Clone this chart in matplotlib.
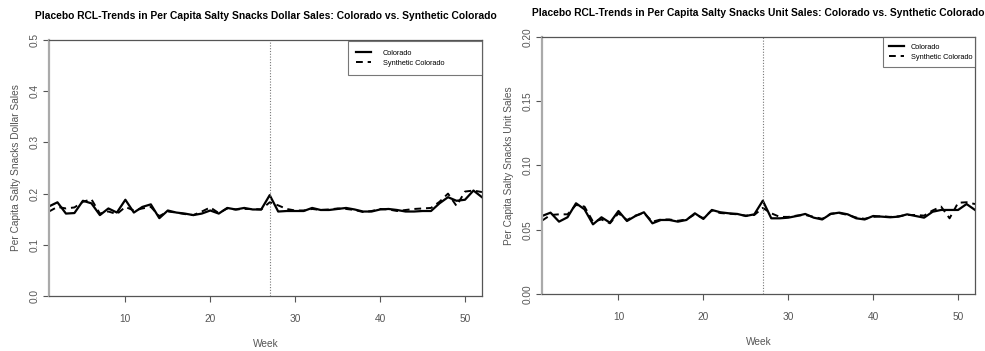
"""
Placebo RCL trends: Colorado vs. synthetic Colorado, salty snacks
dollar and unit sales per capita (two panels).
"""

import matplotlib
matplotlib.use("Agg")
import matplotlib.pyplot as plt

plt.rcParams["font.family"] = ["Liberation Sans", "DejaVu Sans"]

weeks = list(range(1, 53))
treatment_week = 27

dollar_colorado = [
    0.175, 0.183, 0.161, 0.162, 0.186, 0.181, 0.158, 0.171, 0.163, 0.188,
    0.163, 0.174, 0.179, 0.152, 0.167, 0.163, 0.161, 0.158, 0.161, 0.167,
    0.161, 0.172, 0.169, 0.172, 0.169, 0.169, 0.197, 0.165, 0.166, 0.166,
    0.166, 0.172, 0.168, 0.168, 0.170, 0.172, 0.169, 0.165, 0.165, 0.169,
    0.170, 0.168, 0.165, 0.165, 0.166, 0.166, 0.181, 0.193, 0.186, 0.188,
    0.206, 0.193,
]
dollar_synthetic = [
    0.165, 0.174, 0.171, 0.173, 0.184, 0.189, 0.161, 0.165, 0.160, 0.174,
    0.167, 0.171, 0.174, 0.156, 0.165, 0.163, 0.160, 0.158, 0.165, 0.173,
    0.162, 0.171, 0.169, 0.170, 0.170, 0.169, 0.183, 0.177, 0.170, 0.167,
    0.167, 0.170, 0.168, 0.169, 0.171, 0.170, 0.168, 0.164, 0.166, 0.170,
    0.169, 0.166, 0.168, 0.170, 0.171, 0.172, 0.184, 0.200, 0.176, 0.204,
    0.206, 0.203,
]

unit_colorado = [
    0.0607, 0.0633, 0.0563, 0.0597, 0.0706, 0.0659, 0.0542, 0.0597, 0.0555, 0.0646,
    0.0568, 0.0607, 0.0636, 0.0550, 0.0576, 0.0576, 0.0563, 0.0576, 0.0628, 0.0584,
    0.0654, 0.0636, 0.0628, 0.0623, 0.0607, 0.0620, 0.0726, 0.0589, 0.0589, 0.0594,
    0.0607, 0.0623, 0.0594, 0.0580, 0.0623, 0.0633, 0.0620, 0.0589, 0.0580, 0.0607,
    0.0602, 0.0597, 0.0602, 0.0620, 0.0607, 0.0594, 0.0640, 0.0654, 0.0654, 0.0654,
    0.0700, 0.0654,
]
unit_synthetic = [
    0.0571, 0.0615, 0.0620, 0.0620, 0.0693, 0.0680, 0.0563, 0.0580, 0.0550, 0.0628,
    0.0576, 0.0610, 0.0630, 0.0563, 0.0580, 0.0580, 0.0570, 0.0580, 0.0620, 0.0590,
    0.0650, 0.0630, 0.0625, 0.0620, 0.0610, 0.0615, 0.0670, 0.0628, 0.0600, 0.0600,
    0.0610, 0.0615, 0.0600, 0.0585, 0.0625, 0.0630, 0.0615, 0.0595, 0.0585, 0.0600,
    0.0605, 0.0600, 0.0605, 0.0615, 0.0615, 0.0610, 0.0650, 0.0680, 0.0589, 0.0710,
    0.0714, 0.0700,
]

panels = [
    {
        "rect": [0.0497, 0.1567, 0.4396, 0.7293],
        "title": "Placebo RCL-Trends in Per Capita Salty Snacks Dollar Sales: Colorado vs. Synthetic Colorado",
        "ylabel": "Per Capita Salty Snacks Dollar Sales",
        "ylim": (0.0, 0.5),
        "yticks": [0.0, 0.1, 0.2, 0.3, 0.4, 0.5],
        "yfmt": "{:.1f}",
        "actual": dollar_colorado,
        "synth": dollar_synthetic,
        "legend_box": (0.69, 0.0, 0.31, 0.995),
        "legend_pad": dict(borderpad=1.1, handletextpad=1.7),
    },
    {
        "rect": [0.5503, 0.1624, 0.4396, 0.7322],
        "title": "Placebo RCL-Trends in Per Capita Salty Snacks Unit Sales: Colorado vs. Synthetic Colorado",
        "ylabel": "Per Capita Salty Snacks Unit Sales",
        "ylim": (0.0, 0.2),
        "yticks": [0.0, 0.05, 0.10, 0.15, 0.20],
        "yfmt": "{:.2f}",
        "actual": unit_colorado,
        "synth": unit_synthetic,
        "legend_box": (0.787, 0.0, 0.213, 1.0),
        "legend_pad": dict(borderpad=0.9, handletextpad=0.9),
    },
]

GREY = "#555555"

fig = plt.figure(figsize=(9.85, 3.51), dpi=100)

for p in panels:
    ax = fig.add_axes(p["rect"])
    ax.plot(weeks, p["actual"], color="black", lw=1.6, label="Colorado")
    ax.plot(weeks, p["synth"], color="black", lw=1.4, ls=(0, (3.5, 2.5)),
            label="Synthetic Colorado")
    ax.axvline(treatment_week, color="#777777", lw=0.8, ls=(0, (1, 1.5)))

    ax.set_xlim(1, 52)
    ax.set_ylim(*p["ylim"])
    ax.set_xticks([10, 20, 30, 40, 50])
    ax.set_yticks(p["yticks"])
    ax.set_yticklabels([p["yfmt"].format(v) for v in p["yticks"]],
                       rotation=90, va="center")
    ax.tick_params(colors=GREY, labelsize=7.3, length=4, width=0.8)
    ax.tick_params(axis="x", pad=9)
    ax.tick_params(axis="y", pad=3)
    for s in ax.spines.values():
        s.set_color(GREY)
        s.set_linewidth(0.9)
    ax.spines["left"].set_color("#aaaaaa")
    ax.spines["left"].set_linewidth(1.6)

    ax.set_xlabel("Week", color=GREY, fontsize=7.3, labelpad=11)
    ax.set_ylabel(p["ylabel"], color=GREY, fontsize=7.3, labelpad=6)
    ax.set_title(p["title"], fontsize=7.4, fontweight="bold", pad=15)

    leg = ax.legend(loc="upper right", bbox_to_anchor=p["legend_box"],
                    mode="expand", fontsize=5.3, frameon=True,
                    fancybox=False, borderaxespad=0, handlelength=2.0,
                    labelspacing=0.4, **p["legend_pad"])
    leg.get_frame().set_edgecolor(GREY)
    leg.get_frame().set_linewidth(0.8)

fig.savefig("out.png", dpi=100)
